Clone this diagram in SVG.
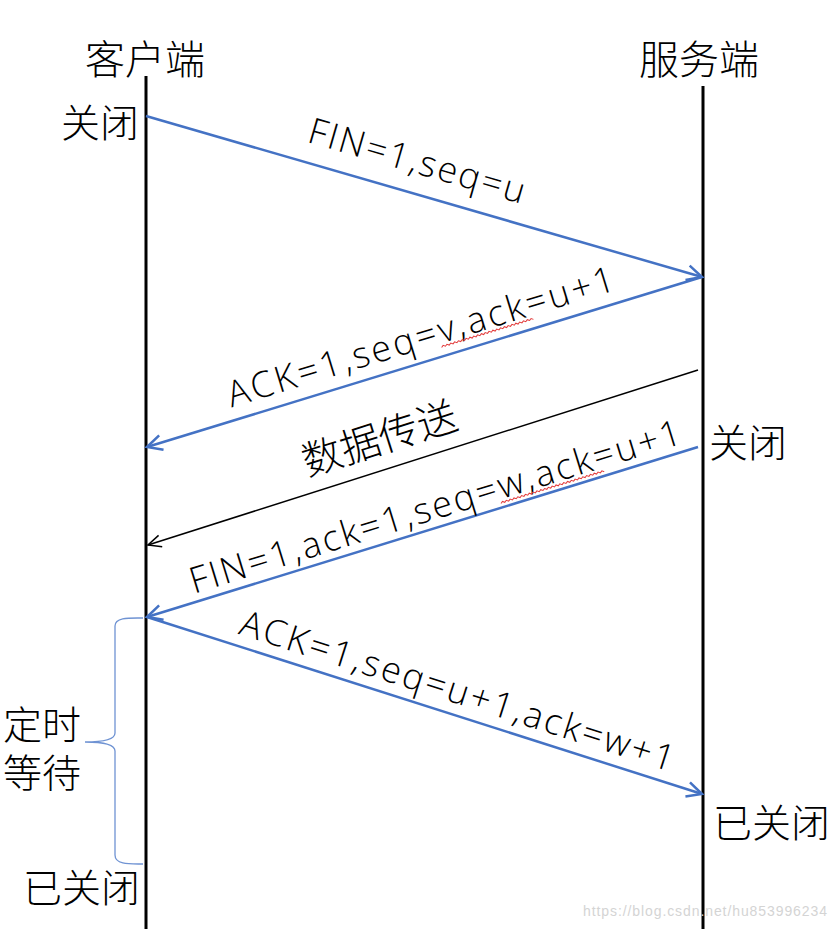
<svg xmlns="http://www.w3.org/2000/svg" width="836" height="929" viewBox="0 0 836 929">
<defs>
<style>
.cjk{font-family:"Noto Sans CJK SC","Noto Sans",sans-serif;font-weight:300;font-size:39px;fill:#000}
.ttl{font-size:40px}
.lat{font-family:"Open Sans","Noto Sans","Noto Sans CJK SC",sans-serif;font-weight:300;font-size:36px;fill:#000}
.life{stroke:#000;stroke-width:3;fill:none}
.msg{stroke:#4472C4;stroke-width:2.5;fill:none;marker-end:url(#ab)}
.data{stroke:#000;stroke-width:1.5;fill:none;marker-end:url(#ak)}
.sq{stroke:#e23b3b;stroke-width:1;fill:none}
</style>
<marker id="ab" viewBox="-20 -12 24 24" markerWidth="24" markerHeight="24" refX="0" refY="0" orient="auto" markerUnits="userSpaceOnUse">
<path d="M-15,-7.5 L0,0 L-15,7.5" fill="none" stroke="#4472C4" stroke-width="2.5"/>
</marker>
<marker id="ak" viewBox="-20 -12 24 24" markerWidth="24" markerHeight="24" refX="0" refY="0" orient="auto" markerUnits="userSpaceOnUse">
<path d="M-13,-6 L0,0 L-13,6" fill="none" stroke="#000" stroke-width="1.5"/>
</marker>
</defs>
<rect width="836" height="929" fill="#fff"/>

<g id="client">
<text class="cjk ttl" x="145" y="74" text-anchor="middle">客户端</text>
<line class="life" x1="146" y1="76" x2="146" y2="929"/>
<text class="cjk" x="61" y="137">关闭</text>
<text class="cjk" x="23" y="902">已关闭</text>
</g>

<g id="server">
<text class="cjk ttl" x="699" y="74" text-anchor="middle">服务端</text>
<line class="life" x1="703" y1="86" x2="703" y2="929"/>
<text class="cjk" x="709" y="457">关闭</text>
<text class="cjk" x="713" y="837">已关闭</text>
</g>

<g id="timewait">
<path d="M143,618 C130,618 115,617 115,626 L115,733 C115,740 100,742 85,742 C100,742 115,744 115,751 L115,855 C115,865 130,864 143,864" fill="none" stroke="#6f93d3" stroke-width="1.3"/>
<text class="cjk" x="3" y="739">定时<tspan x="3" y="787">等待</tspan></text>
</g>

<g id="connectors">
<line class="msg" x1="146" y1="116" x2="702" y2="277"/>
<line class="msg" x1="702" y1="277" x2="147" y2="447"/>
<line class="data" x1="698" y1="370" x2="148" y2="545"/>
<line class="msg" x1="698" y1="447" x2="147" y2="617"/>
<line class="msg" x1="147" y1="617" x2="702" y2="794"/>
</g>

<g id="labels">
<g transform="translate(408,192) rotate(16.1)">
<text class="lat" x="0" y="-20" text-anchor="middle" textLength="224">FIN=1,seq=u</text>
</g>
<g transform="translate(428,361) rotate(-17)">
<text class="lat" x="0" y="-13" text-anchor="middle" textLength="403">ACK=1,seq=v,ack=u+1</text>
<path class="sq" d="M17,-9 l2,-1.5 l2,1.5 l2,-1.5 l2,1.5 l2,-1.5 l2,1.5 l2,-1.5 l2,1.5 l2,-1.5 l2,1.5 l2,-1.5 l2,1.5 l2,-1.5 l2,1.5 l2,-1.5 l2,1.5 l2,-1.5 l2,1.5 l2,-1.5 l2,1.5 l2,-1.5 l2,1.5 l2,-1.5 l2,1.5 l2,-1.5 l2,1.5 l2,-1.5 l2,1.5 l2,-1.5 l2,1.5 l2,-1.5 l2,1.5 l2,-1.5 l2,1.5 l2,-1.5 l2,1.5 l2,-1.5 l2,1.5 l2,-1.5 l2,1.5 l2,-1.5 l2,1.5 l2,-1.5 l2,1.5 l2,-1.5 l2,1.5 l2,-1.5 l2,1.5"/>
</g>
<g transform="translate(389,468.4) rotate(-17.6)">
<text class="cjk" x="0" y="-17" text-anchor="middle" style="font-size:40px">数据传送</text>
</g>
<g transform="translate(441,526.1) rotate(-17.1)">
<text class="lat" x="0" y="-8" text-anchor="middle" textLength="512">FIN=1,ack=1,seq=w,ack=u+1</text>
<path class="sq" d="M64,-4 l2,-1.5 l2,1.5 l2,-1.5 l2,1.5 l2,-1.5 l2,1.5 l2,-1.5 l2,1.5 l2,-1.5 l2,1.5 l2,-1.5 l2,1.5 l2,-1.5 l2,1.5 l2,-1.5 l2,1.5 l2,-1.5 l2,1.5 l2,-1.5 l2,1.5 l2,-1.5 l2,1.5 l2,-1.5 l2,1.5 l2,-1.5 l2,1.5 l2,-1.5 l2,1.5 l2,-1.5 l2,1.5 l2,-1.5 l2,1.5 l2,-1.5 l2,1.5 l2,-1.5 l2,1.5 l2,-1.5 l2,1.5 l2,-1.5 l2,1.5 l2,-1.5 l2,1.5 l2,-1.5 l2,1.5 l2,-1.5 l2,1.5 l2,-1.5 l2,1.5 l2,-1.5 l2,1.5 l2,-1.5 l2,1.5 l2,-1.5 l2,1.5"/>
</g>
<g transform="translate(450,714.2) rotate(17.7)">
<text class="lat" x="0" y="-12" text-anchor="middle" textLength="454">ACK=1,seq=u+1,ack=w+1</text>
</g>
</g>

<text x="827" y="916" text-anchor="end" font-family="Liberation Sans, Arial, sans-serif" font-size="14" fill="#d4d4d4" textLength="244">https://blog.csdn.net/hu853996234</text>
</svg>
